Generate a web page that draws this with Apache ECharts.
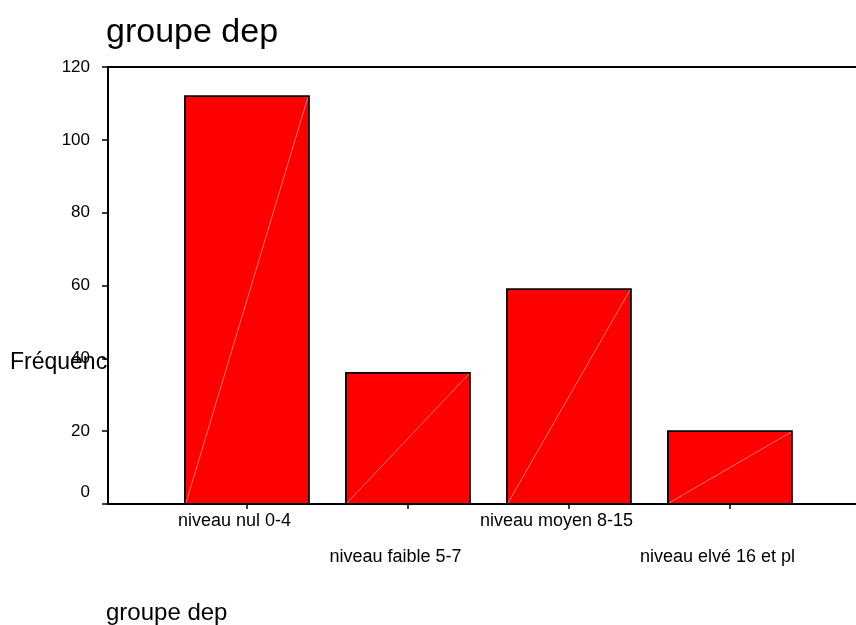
<!DOCTYPE html>
<html>
<head>
<meta charset="utf-8">
<script src="https://cdn.jsdelivr.net/npm/echarts@6/dist/echarts.min.js"></script>
<style>html,body{margin:0;padding:0;background:#fff}#c{width:856px;height:625px}</style>
</head>
<body>
<div id="c"></div>
<script>
const categories = ['niveau nul 0-4', 'niveau faible 5-7', 'niveau moyen 8-15', 'niveau elvé 16 et pl'];
const frequencies = [112, 36, 59, 20];
const yTicks = [0, 20, 40, 60, 80, 100, 120];
const titleText = 'groupe dep';
const xAxisTitle = 'groupe dep';
const yAxisTitle = 'Fréquence';

const FONT = 'Liberation Sans, Arial, sans-serif';
const chart = echarts.init(document.getElementById('c'), null, {renderer: 'canvas'});
const halfBar = 0.385;
const xMin = -0.863, xMax = 3.783;
const catIdx = categories.map((c, i) => i);

chart.setOption({
  animation: false,
  backgroundColor: '#fff',
  title: [
    {text: titleText, left: 101, top: 11, textStyle: {fontFamily: FONT, fontSize: 34, fontWeight: 'normal', color: '#000'}},
    {text: xAxisTitle, left: 101, top: 596, textStyle: {fontFamily: FONT, fontSize: 24, fontWeight: 'normal', color: '#000'}}
  ],
  graphic: [{
    type: 'text', left: 10, top: 351, z: 0,
    style: {text: yAxisTitle, font: '23px ' + FONT, fill: '#000', width: 100, overflow: 'truncate', ellipsis: ''}
  }],
  grid: {left: 108, right: 0, top: 67, bottom: 121, containLabel: false},
  xAxis: [{
    type: 'value', min: xMin, max: xMax,
    axisLine: {show: true, onZero: false, lineStyle: {color: '#000', width: 2}},
    splitLine: {show: false},
    axisTick: {show: true, customValues: catIdx, length: 5, lineStyle: {color: '#000', width: 1.5}},
    axisLabel: {
      show: true, customValues: catIdx, margin: 8,
      formatter: v => (Math.round(v) % 2 === 0 ? '{a|' : '{b|') + categories[Math.round(v)] + '}',
      rich: {
        a: {fontFamily: FONT, fontSize: 18, color: '#000', padding: [0, 25, 0, 0]},
        b: {fontFamily: FONT, fontSize: 18, color: '#000', padding: [36, 25, 0, 0]}
      }
    }
  }, {
    type: 'value', position: 'top', min: xMin, max: xMax,
    axisLine: {show: true, onZero: false, lineStyle: {color: '#000', width: 2}},
    splitLine: {show: false}, axisTick: {show: false}, axisLabel: {show: false}
  }],
  yAxis: {
    type: 'value', min: yTicks[0], max: yTicks[yTicks.length - 1], interval: 20,
    axisLine: {show: true, onZero: false, lineStyle: {color: '#000', width: 2}},
    splitLine: {show: false},
    axisTick: {show: true, inside: false, length: 6, lineStyle: {color: '#000', width: 1.5}},
    axisLabel: {
      margin: 18, fontFamily: FONT, fontSize: 17, color: '#000',
      formatter: v => v === 0 ? '{z|0}' : String(v),
      rich: {z: {fontFamily: FONT, fontSize: 17, color: '#000', padding: [0, 0, 24, 0]}}
    }
  },
  series: [{
    type: 'custom',
    xAxisIndex: 0,
    data: categories.map((c, i) => [i, frequencies[i]]),
    renderItem: function (params, api) {
      const x = api.value(0), v = api.value(1);
      const p0 = api.coord([x - halfBar, 0]);
      const p1 = api.coord([x + halfBar, v]);
      return {
        type: 'group',
        children: [
          {type: 'rect', shape: {x: p0[0], y: p1[1], width: p1[0] - p0[0], height: p0[1] - p1[1]},
           style: {fill: '#ff0000', stroke: '#000', lineWidth: 1.8}},
          {type: 'line', shape: {x1: p0[0] + 1, y1: p0[1] - 1, x2: p1[0] - 1, y2: p1[1] + 1},
           style: {stroke: 'rgba(255,190,190,0.85)', lineWidth: 0.7}}
        ]
      };
    }
  }]
});
</script>
</body>
</html>
